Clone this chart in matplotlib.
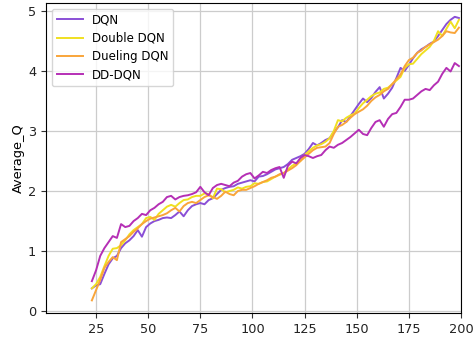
import numpy as np
import matplotlib
matplotlib.use("Agg")
import matplotlib.pyplot as plt

episodes = list(range(23, 200, 2))

dqn = [0.38, 0.43, 0.45, 0.62, 0.78, 0.88, 0.92, 1.05, 1.13, 1.18, 1.25, 1.35, 1.24, 1.40, 1.46,
       1.50, 1.52, 1.55, 1.56, 1.55, 1.60, 1.66, 1.58, 1.68, 1.75, 1.78, 1.80, 1.78, 1.85, 1.88,
       1.95, 2.02, 2.05, 2.07, 2.08, 2.12, 2.14, 2.16, 2.18, 2.16, 2.24, 2.25, 2.28, 2.32, 2.36,
       2.38, 2.40, 2.45, 2.52, 2.55, 2.58, 2.62, 2.70, 2.80, 2.76, 2.80, 2.85, 2.88, 2.98, 3.06,
       3.18, 3.15, 3.25, 3.35, 3.45, 3.54, 3.48, 3.55, 3.65, 3.73, 3.54, 3.62, 3.72, 3.88, 4.05,
       4.00, 4.10, 4.21, 4.30, 4.36, 4.40, 4.45, 4.49, 4.58, 4.68, 4.78, 4.85, 4.90, 4.88]

double_dqn = [0.38, 0.45, 0.57, 0.75, 0.92, 1.04, 1.05, 1.10, 1.18, 1.28, 1.35, 1.40, 1.45, 1.55, 1.57,
              1.52, 1.62, 1.68, 1.74, 1.77, 1.74, 1.80, 1.85, 1.86, 1.90, 1.92, 1.92, 1.96, 1.95, 1.88,
              2.04, 2.03, 1.98, 2.00, 2.02, 2.06, 2.04, 2.07, 2.08, 2.13, 2.12, 2.15, 2.16, 2.20, 2.24,
              2.27, 2.30, 2.36, 2.42, 2.46, 2.50, 2.60, 2.66, 2.72, 2.76, 2.78, 2.82, 2.88, 3.00, 3.18,
              3.16, 3.22, 3.26, 3.29, 3.38, 3.46, 3.52, 3.58, 3.62, 3.64, 3.70, 3.72, 3.78, 3.84, 3.90,
              4.05, 4.11, 4.12, 4.20, 4.28, 4.34, 4.40, 4.50, 4.66, 4.58, 4.70, 4.82, 4.71, 4.85]

dueling_dqn = [0.18, 0.35, 0.52, 0.72, 0.82, 0.90, 0.85, 1.15, 1.20, 1.25, 1.32, 1.38, 1.45, 1.50, 1.54,
               1.56, 1.58, 1.60, 1.63, 1.68, 1.72, 1.66, 1.75, 1.80, 1.82, 1.80, 1.85, 1.90, 1.93, 1.90,
               1.87, 1.92, 1.99, 1.95, 1.93, 2.00, 2.02, 2.02, 2.05, 2.08, 2.12, 2.15, 2.18, 2.22, 2.24,
               2.28, 2.30, 2.34, 2.38, 2.43, 2.50, 2.56, 2.62, 2.68, 2.72, 2.73, 2.74, 2.80, 2.95, 3.07,
               3.10, 3.15, 3.22, 3.28, 3.32, 3.36, 3.42, 3.50, 3.56, 3.60, 3.66, 3.70, 3.78, 3.86, 3.94,
               4.08, 4.18, 4.22, 4.30, 4.34, 4.40, 4.44, 4.48, 4.52, 4.58, 4.66, 4.64, 4.63, 4.72]

dd_dqn = [0.50, 0.68, 0.92, 1.05, 1.15, 1.25, 1.22, 1.45, 1.40, 1.42, 1.50, 1.55, 1.62, 1.60, 1.68,
          1.72, 1.78, 1.82, 1.90, 1.92, 1.86, 1.90, 1.92, 1.93, 1.95, 1.98, 2.07, 1.98, 1.93, 2.05,
          2.10, 2.12, 2.10, 2.08, 2.14, 2.17, 2.24, 2.28, 2.30, 2.21, 2.26, 2.32, 2.30, 2.35, 2.38,
          2.40, 2.22, 2.42, 2.49, 2.46, 2.55, 2.60, 2.58, 2.55, 2.58, 2.60, 2.68, 2.74, 2.72, 2.77,
          2.80, 2.85, 2.90, 2.96, 3.02, 2.95, 2.93, 3.05, 3.15, 3.18, 3.07, 3.20, 3.28, 3.30, 3.40,
          3.52, 3.52, 3.54, 3.60, 3.66, 3.70, 3.68, 3.76, 3.82, 3.95, 4.05, 3.99, 4.13, 4.08]

plt.rcParams['font.size'] = 9.3
fig = plt.figure(figsize=(4.73, 3.40), dpi=100)
ax = fig.add_axes([46 / 473, 1 - 313 / 340, 415 / 473, 310 / 340])

ax.plot(episodes, dqn, color="#8a4fd6", lw=1.4, label="DQN")
ax.plot(episodes, double_dqn, color="#f0e020", lw=1.4, label="Double DQN")
ax.plot(episodes, dueling_dqn, color="#f9a53a", lw=1.4, label="Dueling DQN")
ax.plot(episodes, dd_dqn, color="#b52fb5", lw=1.4, label="DD-DQN")

ax.set_xlim(1, 200)
ax.set_ylim(-0.03, 5.13)
ax.set_xticks([25, 50, 75, 100, 125, 150, 175, 200])
ax.set_yticks([0, 1, 2, 3, 4, 5])
ax.tick_params(colors="#333333", labelcolor="#222222")
ax.grid(True, color="#cccccc", lw=0.9)
ax.set_ylabel("Average_Q", labelpad=2)
ax.legend(loc="upper left", fontsize=8.5, handlelength=2.2, labelspacing=0.45)

fig.savefig("out.png", dpi=100)
